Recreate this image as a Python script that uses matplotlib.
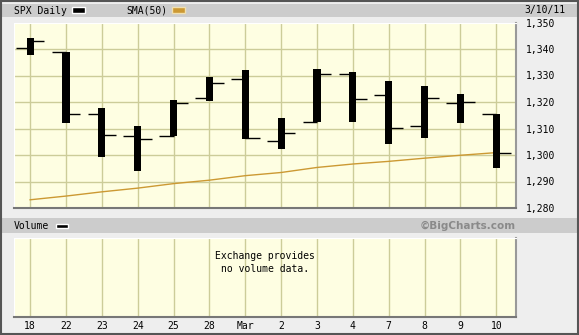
import matplotlib
matplotlib.use("Agg")
import matplotlib.pyplot as plt
from matplotlib.patches import Rectangle
import numpy as np

W, H = 579, 335

dates = ["18", "22", "23", "24", "25", "28", "Mar", "2", "3", "4", "7", "8", "9", "10"]
opens = [1340.3, 1338.7, 1315.5, 1307.1, 1307.1, 1321.6, 1328.5, 1305.2, 1312.5, 1330.7, 1322.7, 1310.9, 1319.7, 1315.5]
highs = [1344.2, 1338.9, 1317.9, 1311.1, 1320.6, 1329.3, 1332.0, 1314.1, 1332.4, 1331.2, 1327.8, 1325.9, 1323.2, 1315.5]
lows = [1337.8, 1312.0, 1299.4, 1294.1, 1307.0, 1320.3, 1305.9, 1302.4, 1312.3, 1312.3, 1304.0, 1306.6, 1312.0, 1295.2]
closes = [1342.9, 1315.5, 1307.5, 1306.1, 1319.7, 1327.3, 1306.4, 1308.3, 1330.7, 1321.2, 1310.2, 1321.6, 1320.1, 1300.7]
sma50 = [1283.1, 1284.5, 1286.1, 1287.5, 1289.2, 1290.5, 1292.2, 1293.4, 1295.3, 1296.6, 1297.6, 1298.8, 1299.9, 1300.9]
price_ticks = [1280, 1290, 1300, 1310, 1320, 1330, 1340, 1350]

BG = "#eeeeee"
PANEL = "#fefee2"
GRID = "#cccc99"
SMA_COL = "#cc9933"
MONO = "DejaVu Sans Mono"

def fx(x):
    return x / W

def fy(y):
    return 1 - y / H

fig = plt.figure(figsize=(W / 100, H / 100), dpi=100, facecolor=BG)

# header bars
for y0, y1 in [(4, 17), (218, 233)]:
    fig.add_artist(Rectangle((fx(2), fy(y1)), fx(575), (y1 - y0) / H,
                             transform=fig.transFigure, facecolor="#cccccc", edgecolor="none"))
# outer frame
fig.add_artist(Rectangle((0.001, 0.002), 0.997, 0.996, transform=fig.transFigure,
                         facecolor="none", edgecolor="#555555", lw=1.5))

x = np.arange(len(dates))

# price panel
ax = fig.add_axes([fx(14), fy(208), fx(502), 185.5 / H])
ax.set_facecolor(PANEL)
ax.set_xlim(-0.45, 13.55)
ax.set_ylim(1280, 1350)
for v in x:
    ax.axvline(v, color=GRID, lw=1, zorder=1)
for p in price_ticks[1:-1]:
    ax.axhline(p, color=GRID, lw=1, zorder=1)

ax.plot(x, sma50, color=SMA_COL, lw=1, zorder=2)
ax.bar(x, np.array(highs) - np.array(lows), bottom=lows, width=0.2, color="black", zorder=3)
ax.hlines(opens, x - 0.4, x, color="black", lw=1, zorder=3)
ax.hlines(closes, x, x + 0.4, color="black", lw=1, zorder=3)

ax.set_xticks([])
ax.yaxis.tick_right()
ax.set_yticks(price_ticks)
ax.set_yticklabels([f"{p:,}" for p in price_ticks], fontsize=7, family=MONO)
ax.tick_params(axis="y", length=0, pad=7)
ax.spines["top"].set_color("white")
ax.spines["left"].set_color("white")
ax.spines["bottom"].set_color("#777777")
ax.spines["bottom"].set_linewidth(1.5)
ax.spines["right"].set_color("#999999")
ax.spines["right"].set_linewidth(1.5)

# volume panel
av = fig.add_axes([fx(14), fy(317.3), fx(502), 79 / H])
av.set_facecolor(PANEL)
av.set_xlim(-0.45, 13.55)
av.set_ylim(0, 1)
for v in x:
    av.axvline(v, color=GRID, lw=1, zorder=1)
av.set_yticks([])
av.set_xticks(x)
av.set_xticklabels(dates, fontsize=7, family=MONO)
av.tick_params(axis="x", length=0, pad=3)
av.spines["top"].set_color("white")
av.spines["left"].set_color("white")
av.spines["bottom"].set_color("#777777")
av.spines["bottom"].set_linewidth(1.5)
av.spines["right"].set_color("#999999")
av.spines["right"].set_linewidth(1.5)
av.text(0.5, 0.77, "Exchange provides", transform=av.transAxes, ha="center", va="center",
        fontsize=7, family=MONO)
av.text(0.5, 0.61, "no volume data.", transform=av.transAxes, ha="center", va="center",
        fontsize=7, family=MONO)

# header texts and legend swatches
fig.text(fx(14), fy(10.5), "SPX Daily", fontsize=7, family=MONO, va="center")
fig.add_artist(Rectangle((fx(72), fy(12.5)), fx(13), 5 / H, transform=fig.transFigure,
                         facecolor="black", edgecolor="white", lw=1))
fig.text(fx(126), fy(10.5), "SMA(50)", fontsize=7, family=MONO, va="center")
fig.add_artist(Rectangle((fx(172), fy(12.5)), fx(13), 5 / H, transform=fig.transFigure,
                         facecolor=SMA_COL, edgecolor="#f0e0b0", lw=1))
fig.text(fx(524), fy(10.5), "3/10/11", fontsize=7, family=MONO, va="center")

fig.text(fx(14), fy(226), "Volume", fontsize=7, family=MONO, va="center")
fig.add_artist(Rectangle((fx(56), fy(228)), fx(12), 4 / H, transform=fig.transFigure,
                         facecolor="black", edgecolor="white", lw=1))
fig.text(fx(516), fy(226), "\u00a9BigCharts.com", fontsize=7.5, fontweight="bold",
         color="#8a8a8a", ha="right", va="center")

fig.savefig("out.png", dpi=100, facecolor=BG)
